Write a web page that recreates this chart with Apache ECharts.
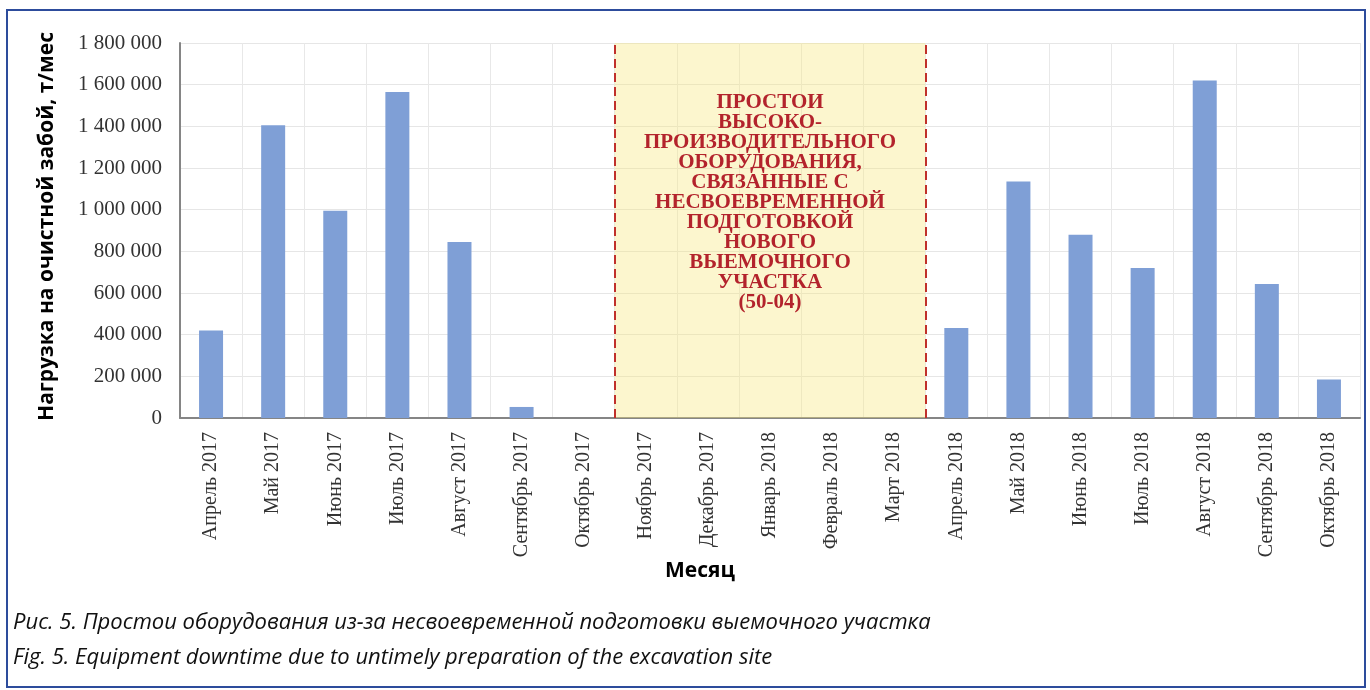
<!DOCTYPE html>
<html>
<head>
<meta charset="utf-8">
<script src="https://cdn.jsdelivr.net/npm/echarts@6/dist/echarts.min.js"></script>
<style>
  html, body { margin: 0; padding: 0; background: #ffffff; }
  #chart { position: absolute; left: 0; top: 0; width: 1370px; height: 690px; }
  #frame { position: absolute; left: 6px; top: 9px; width: 1356px; height: 675px;
           border: 2px solid #2d4c9c; pointer-events: none; }
</style>
</head>
<body>
<div id="chart"></div>
<div id="frame"></div>
<script>
// Months on the horizontal axis
const months = [
  'Апрель 2017', 'Май 2017', 'Июнь 2017', 'Июль 2017', 'Август 2017',
  'Сентябрь 2017', 'Октябрь 2017', 'Ноябрь 2017', 'Декабрь 2017',
  'Январь 2018', 'Февраль 2018', 'Март 2018', 'Апрель 2018', 'Май 2018',
  'Июнь 2018', 'Июль 2018', 'Август 2018', 'Сентябрь 2018', 'Октябрь 2018'
];

// Monthly load on the longwall face, t/month
const faceLoad = [
  420000, 1405000, 995000, 1565000, 845000,
  53000, 0, 0, 0,
  0, 0, 0, 432000, 1135000,
  880000, 720000, 1620000, 643000, 185000
];

// Value axis ticks
const yTicks = { min: 0, max: 1800000, step: 200000 };

// Downtime period (first and last idle month)
const downtimeFirst = 'Ноябрь 2017';
const downtimeLast = 'Март 2018';
const downtimeText = [
  'ПРОСТОИ', 'ВЫСОКО-', 'ПРОИЗВОДИТЕЛЬНОГО', 'ОБОРУДОВАНИЯ,',
  'СВЯЗАННЫЕ С', 'НЕСВОЕВРЕМЕННОЙ', 'ПОДГОТОВКОЙ', 'НОВОГО',
  'ВЫЕМОЧНОГО', 'УЧАСТКА', '(50-04)'
];

const axisTitleY = 'Нагрузка на очистной забой, т/мес';
const axisTitleX = 'Месяц';
const captionRu = 'Рис. 5. Простои оборудования из-за несвоевременной подготовки выемочного участка';
const captionEn = 'Fig. 5. Equipment downtime due to untimely preparation of the excavation site';

const idleFrom = months.indexOf(downtimeFirst);
const idleTo = months.indexOf(downtimeLast) + 1;

const serif = "'Liberation Serif', 'DejaVu Serif', serif";
const sans = "'Open Sans', 'Noto Sans', sans-serif";

const fmt = v => String(v).replace(/\B(?=(\d{3})+(?!\d))/g, ' ');

const chart = echarts.init(document.getElementById('chart'), null, { renderer: 'canvas' });

chart.setOption({
  animation: false,
  backgroundColor: '#ffffff',
  title: [
    {
      text: axisTitleX, left: 660, top: 556,
      textStyle: { fontFamily: sans, fontWeight: 'bold', fontSize: 21, color: '#000' }
    },
    {
      text: captionRu, left: 8, top: 607,
      textStyle: { fontFamily: sans, fontStyle: 'italic', fontWeight: 'normal', fontSize: 22, color: '#111' }
    },
    {
      text: captionEn, left: 8, top: 642,
      textStyle: { fontFamily: sans, fontStyle: 'italic', fontWeight: 'normal', fontSize: 22, color: '#111' }
    }
  ],
  grid: { left: 180, right: 10, top: 43, bottom: 272 },
  xAxis: [
    {
      type: 'category',
      data: months,
      boundaryGap: true,
      axisLine: { show: true, lineStyle: { color: '#858585', width: 2 } },
      axisTick: { show: false },
      splitLine: { show: true, interval: 0, lineStyle: { color: '#e8e8e8', width: 1 } },
      axisLabel: {
        interval: 0, rotate: 90, margin: 14,
        fontFamily: serif, fontSize: 20, color: '#333'
      }
    },
    {
      type: 'value', min: 0, max: months.length, show: false
    }
  ],
  yAxis: {
    type: 'value',
    min: yTicks.min, max: yTicks.max, interval: yTicks.step,
    name: axisTitleY,
    nameLocation: 'middle',
    nameGap: 122,
    nameTextStyle: {
      fontFamily: sans, fontWeight: 'bold', fontSize: 21, color: '#000',
      padding: [0, 0, 0, 8]
    },
    axisLine: { show: true, lineStyle: { color: '#858585', width: 2 } },
    axisTick: { show: false },
    splitLine: { show: true, lineStyle: { color: '#e6e6e6', width: 1 } },
    axisLabel: {
      margin: 18, fontFamily: serif, fontSize: 21, color: '#333',
      formatter: fmt
    }
  },
  series: [
    {
      name: 'downtime',
      type: 'line',
      xAxisIndex: 1,
      yAxisIndex: 0,
      data: [[idleFrom, 0]],
      symbol: 'none',
      silent: true,
      lineStyle: { opacity: 0 },
      markArea: {
        silent: true,
        itemStyle: { color: 'rgba(248, 232, 125, 0.38)' },
        label: {
          show: true,
          position: 'insideTop',
          distance: 50,
          formatter: downtimeText.join('\n'),
          fontFamily: serif,
          fontWeight: 'bold',
          fontSize: 21,
          lineHeight: 20,
          align: 'center',
          color: '#b3232c'
        },
        data: [[{ xAxis: idleFrom }, { xAxis: idleTo }]]
      },
      markLine: {
        silent: true,
        symbol: ['none', 'none'],
        label: { show: false },
        lineStyle: { type: [9, 5], color: '#c0302b', width: 2 },
        data: [{ xAxis: idleFrom }, { xAxis: idleTo }]
      },
      z: 1
    },
    {
      name: axisTitleY,
      type: 'bar',
      data: faceLoad,
      barWidth: 24,
      itemStyle: { color: '#7f9fd6' },
      z: 2
    }
  ]
});
</script>
</body>
</html>
